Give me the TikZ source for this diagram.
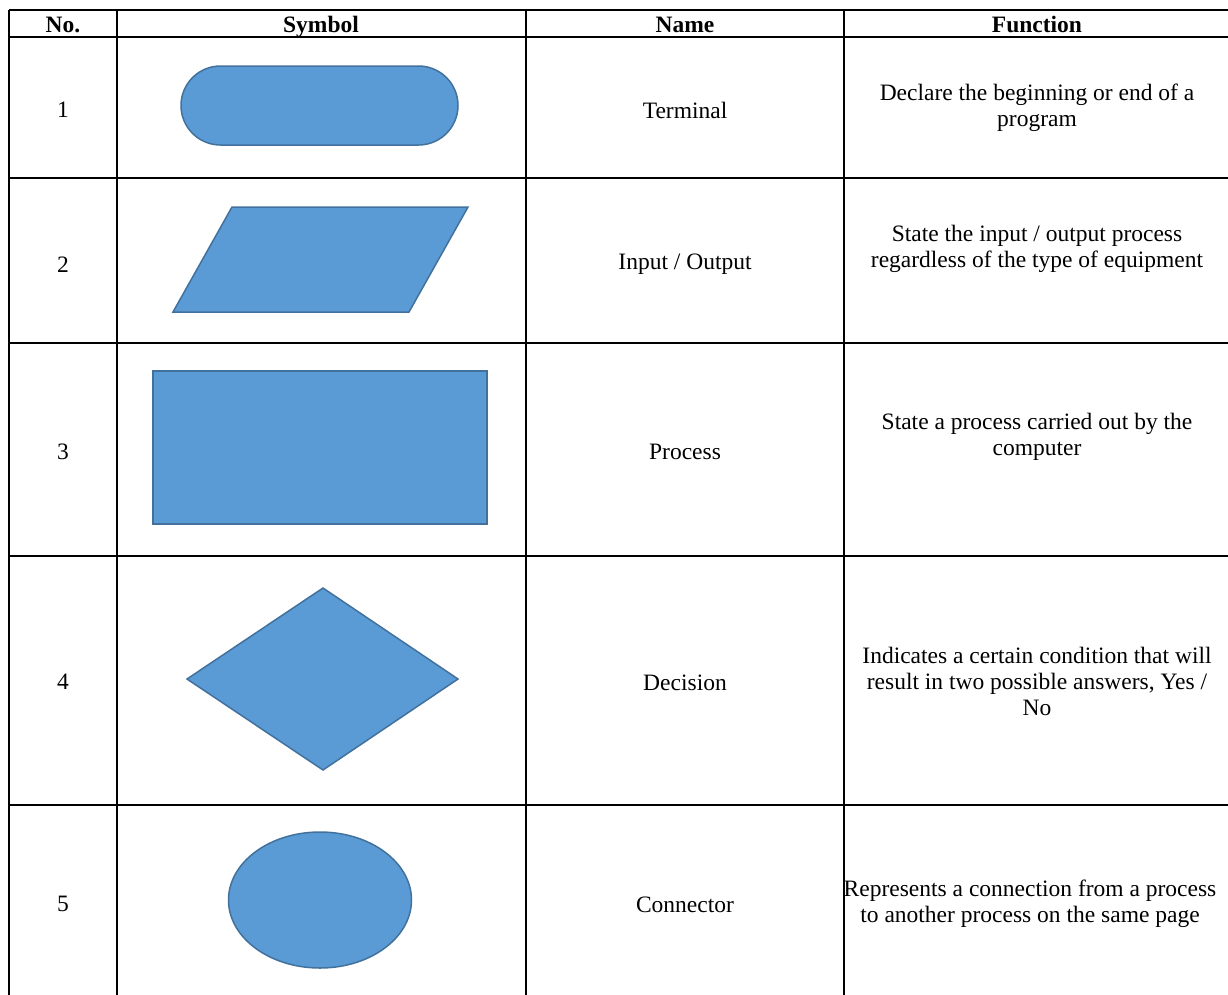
\documentclass[tikz,border=0pt]{standalone}
\usepackage{fontspec}
\setmainfont{Liberation Serif}
\begin{document}
\begin{tikzpicture}[x=1pt,y=-1pt,
  grid/.style={line width=2pt,black},
  shapefill/.style={fill={rgb,255:red,91;green,155;blue,213},draw={rgb,255:red,65;green,113;blue,156},line width=1.5pt,line join=miter},
  txt/.style={font=\fontsize{23.5}{26}\selectfont,align=center,inner sep=0pt},
  hdr/.style={font=\fontsize{23.5}{26}\selectfont\bfseries,inner sep=0pt,anchor=base}]
\useasboundingbox (0,0) rectangle (1228,994);
\clip (0,0) rectangle (1228,994);
% grid
\foreach \yy in {10,37,178,343,556,805} \draw[grid] (9,\yy) -- (1240,\yy);
\foreach \xx in {9,117,526,844} \draw[grid] (\xx,10) -- (\xx,1010);
% header
\node[hdr] (h1) at (63,32) {No.};
\node[hdr] (h2) at (321,32) {Symbol};
\node[hdr] (h3) at (685,32) {Name};
\node[hdr] (h4) at (1037,32) {Function};
% numbers
\node[txt] (n1) at (63,110) {1};
\node[txt] (n2) at (63,265) {2};
\node[txt] (n3) at (63,452) {3};
\node[txt] (n4) at (63,682) {4};
\node[txt] (n5) at (63,904) {5};
% names
\node[txt] (m1) at (685,110) {Terminal};
\node[txt] (m2) at (685,264) {Input / Output};
\node[txt] (m3) at (685,452) {Process};
\node[txt] (m4) at (685,683) {Decision};
\node[txt] (m5) at (685,905) {Connector};
% functions
\node[txt] (f1) at (1037,108) {Declare the beginning or end of a\\program};
\node[txt] (f2) at (1037,249) {State the input / output process\\regardless of the type of equipment};
\node[txt] (f3) at (1037,437) {State a process carried out by the\\computer};
\node[txt] (f4) at (1037,681) {Indicates a certain condition that will\\result in two possible answers, Yes /\\No};
\node[txt] (f5) at (1030,904) {Represents a connection from a process\\to another process on the same page};
% symbols
\draw[shapefill,rounded corners=39.5pt] (181,66) rectangle (458,145);
\draw[shapefill] (232,207) -- (468,207) -- (409,312) -- (173,312) -- cycle;
\draw[shapefill] (153,371) rectangle (487,524);
\draw[shapefill] (323,588) -- (458,679) -- (323,770) -- (187,679) -- cycle;
\draw[shapefill] (320,900) ellipse [x radius=91.5, y radius=68];
\end{tikzpicture}
\end{document}
